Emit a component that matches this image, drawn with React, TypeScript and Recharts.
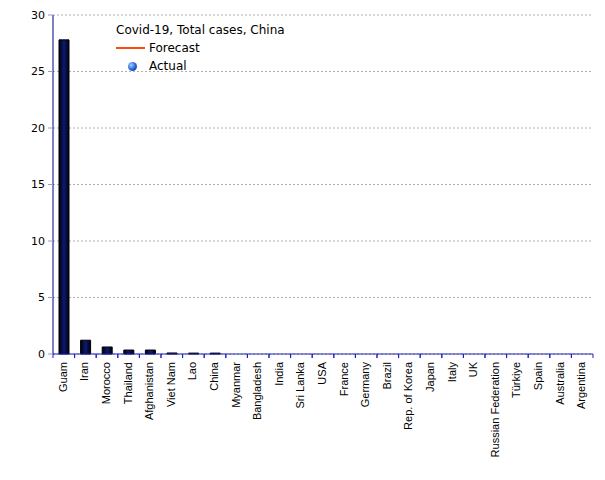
import React from 'react'
import { BarChart, Bar, XAxis, YAxis, CartesianGrid } from 'recharts'

const countries = [
  'Guam', 'Iran', 'Morocco', 'Thailand', 'Afghanistan', 'Viet Nam', 'Lao', 'China',
  'Myanmar', 'Bangladesh', 'India', 'Sri Lanka', 'USA', 'France', 'Germany', 'Brazil',
  'Rep. of Korea', 'Japan', 'Italy', 'UK', 'Russian Federation', 'Türkiye', 'Spain',
  'Australia', 'Argentina',
]
const totalCases = [
  27.8, 1.22, 0.62, 0.35, 0.35, 0.09, 0.08, 0.08,
  0, 0, 0, 0, 0, 0, 0, 0,
  0, 0, 0, 0, 0, 0, 0,
  0, 0,
]
const yTicks = [0, 5, 10, 15, 20, 25, 30]
const legendTitle = 'Covid-19, Total cases, China'

const data = countries.map((name, i) => ({ name, value: totalCases[i] }))

const BAND = 540 / countries.length

const CountryTick = (props: any) => {
  const { x, y, payload } = props
  return (
    <g>
      <line x1={x - BAND / 2} x2={x - BAND / 2} y1={y} y2={y + 4} stroke="#1f1fbf" />
      <line x1={x + BAND / 2} x2={x + BAND / 2} y1={y} y2={y + 4} stroke="#1f1fbf" />
      <text
        transform={`translate(${x + 3},${y + 8}) rotate(-90)`}
        textAnchor="end"
        fontSize={11}
        fontFamily="Liberation Sans, Arial, sans-serif"
        fill="#000"
      >
        {payload.value}
      </text>
    </g>
  )
}

// legend drawn as an overlay so it doesn't push the plot down
const LegendBox = () => (
  <div
    style={{
      position: 'absolute', left: 116, top: 21,
      fontFamily: 'DejaVu Sans, sans-serif', fontSize: 12, color: '#000', lineHeight: '18px',
    }}
  >
    <div>{legendTitle}</div>
    <div style={{ display: 'flex', alignItems: 'center' }}>
      <div style={{ width: 29, height: 1.5, background: '#ff4a10', marginRight: 4 }} />
      <span>Forecast</span>
    </div>
    <div style={{ display: 'flex', alignItems: 'center' }}>
      <div style={{ width: 33, display: 'flex', justifyContent: 'center' }}>
        <div
          style={{
            width: 9, height: 9, borderRadius: 5,
            background: 'radial-gradient(circle at 35% 35%, #a8ccff, #2060d8 55%, #0a2a80)',
          }}
        />
      </div>
      <span>Actual</span>
    </div>
  </div>
)

export default function App() {
  return (
    <div style={{ position: 'absolute', left: 0, top: 0, width: 605, height: 480, background: '#fff' }}>
      <BarChart
        width={605}
        height={480}
        data={data}
        margin={{ top: 15, right: 12, left: 0, bottom: 0 }}
      >
        <defs>
          <linearGradient id="barFill" x1="0" y1="0" x2="1" y2="0">
            <stop offset="0%" stopColor="#000010" />
            <stop offset="50%" stopColor="#0c1a6e" />
            <stop offset="100%" stopColor="#000010" />
          </linearGradient>
        </defs>
        <CartesianGrid vertical={false} stroke="#b0b0b0" strokeDasharray="2 2" />
        <XAxis
          dataKey="name"
          interval={0}
          height={126}
          tickLine={false}
          tickSize={0}
          tickMargin={0}
          tick={<CountryTick />}
          axisLine={{ stroke: '#1f1fbf' }}
        />
        <YAxis
          width={53}
          domain={[0, 30]}
          ticks={yTicks}
          tickSize={5}
          tickMargin={3}
          tickLine={{ stroke: '#9999cc' }}
          axisLine={{ stroke: '#00008b' }}
          tick={{ fontSize: 11, fill: '#000', fontFamily: 'DejaVu Sans, sans-serif' }}
          interval={0}
        />
        <Bar dataKey="value" fill="url(#barFill)" stroke="#000" barSize={10} isAnimationActive={false} />
      </BarChart>
      <LegendBox />
    </div>
  )
}
